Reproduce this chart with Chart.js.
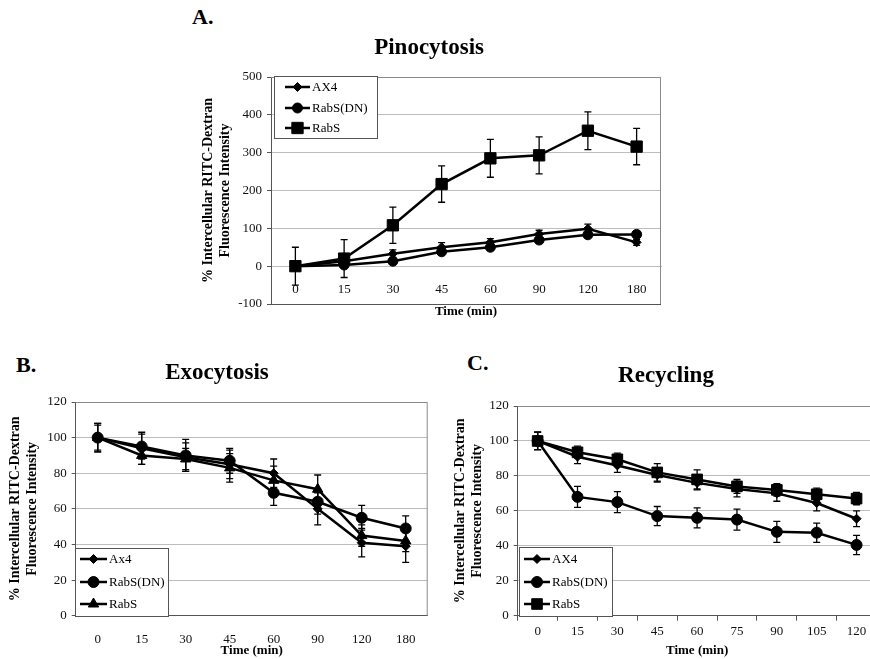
<!DOCTYPE html>
<html>
<head>
<meta charset="utf-8">
<script src="https://cdn.jsdelivr.net/npm/chart.js@4.4.1/dist/chart.umd.min.js"></script>
<style>
html, body { margin: 0; padding: 0; width: 870px; height: 659px; overflow: hidden; background: #fff; }
canvas { position: absolute; }
.tag { position: absolute; font: bold 22px 'Liberation Serif', 'Times New Roman', serif; line-height: 22px; color: #000; }
</style>
</head>
<body>
<div class="tag" style="left:192px;top:6px">A.</div>
<div class="tag" style="left:16px;top:354px">B.</div>
<div class="tag" style="left:467px;top:352px">C.</div>
<canvas id="pino-chart" width="490" height="320" style="left:180px;top:0"></canvas>
<canvas id="exo-chart" width="440" height="329" style="left:0;top:330px"></canvas>
<canvas id="recycle-chart" width="450" height="329" style="left:435px;top:330px"></canvas>
<script>
// --- data ---
const timeAB = ['0', '15', '30', '45', '60', '90', '120', '180'];
const timeC = ['0', '15', '30', '45', '60', '75', '90', '105', '120'];

const pinoAX4 = [0, 13, 33, 50, 63, 85, 99, 63];
const pinoAX4Err = [3, 8, 10, 12, 10, 10, 12, 8];
const pinoDN = [0, 3, 13, 38, 50, 69, 83, 84];
const pinoDNErr = [3, 5, 6, 6, 6, 6, 6, 8];
const pinoRabS = [0, 20, 108, 217, 285, 293, 358, 316];
const pinoRabSErr = [50, 50, 48, 48, 50, 49, 50, 48];

const exoAx4 = [100, 94, 89, 85, 80, 60, 41, 39];
const exoAx4Err = [8, 9, 8, 8, 8, 9, 8, 9];
const exoDN = [100, 95, 90, 87, 69, 64, 55, 49];
const exoDNErr = [8, 7, 9, 7, 7, 7, 7, 7];
const exoRabS = [100, 90, 88, 83, 76, 71, 45, 42];
const exoRabSErr = [7, 5, 6, 8, 8, 8, 6, 6];

const recAX4 = [100, 91, 86, 80.5, 76, 72.5, 70, 64.5, 55.5];
const recAX4Err = [5, 4, 4, 4, 4, 4.5, 4.5, 4.5, 4.5];
const recDN = [100, 68, 65, 57, 56, 55, 48, 47.5, 40.5];
const recDNErr = [5, 6, 6, 5.5, 5.7, 6, 6, 5.5, 5.5];
const recRabS = [100, 93.5, 89.5, 82, 78, 74, 72, 69.5, 67];
const recRabSErr = [5, 3.5, 3.5, 5, 5.5, 4, 3.5, 3.5, 3.5];

const serif = "'Liberation Serif', 'Times New Roman', serif";
const yTitle = ['% Intercellular RITC-Dextran', 'Fluorescence Intensity'];

// vertical error bars from each dataset's errors array
const errorBars = {
    id: 'errorBars',
    afterDatasetsDraw(chart) {
        const ctx = chart.ctx;
        const y = chart.scales.y;
        ctx.save();
        ctx.strokeStyle = '#000';
        ctx.lineWidth = 1.3;
        chart.data.datasets.forEach((ds, i) => {
            chart.getDatasetMeta(i).data.forEach((pt, j) => {
                const top = y.getPixelForValue(ds.data[j] + ds.errors[j]);
                const bot = y.getPixelForValue(ds.data[j] - ds.errors[j]);
                ctx.beginPath();
                ctx.moveTo(pt.x, top); ctx.lineTo(pt.x, bot);
                ctx.moveTo(pt.x - 3.5, top); ctx.lineTo(pt.x + 3.5, top);
                ctx.moveTo(pt.x - 3.5, bot); ctx.lineTo(pt.x + 3.5, bot);
                ctx.stroke();
            });
        });
        ctx.restore();
    }
};

// top and right edge of the plot area
const plotFrame = {
    id: 'plotFrame',
    beforeDatasetsDraw(chart) {
        const {ctx, chartArea: a} = chart;
        ctx.save();
        ctx.strokeStyle = '#8a8a8a';
        ctx.lineWidth = 1;
        ctx.beginPath();
        ctx.moveTo(a.left, a.top + 0.5);
        ctx.lineTo(a.right - 0.5, a.top + 0.5);
        ctx.lineTo(a.right - 0.5, a.bottom);
        ctx.stroke();
        ctx.restore();
    }
};

// excel-like boxed legend: line with marker, then label
const boxLegend = {
    id: 'boxLegend',
    afterDraw(chart, args, opts) {
        const ctx = chart.ctx;
        ctx.save();
        ctx.fillStyle = '#fff';
        ctx.fillRect(opts.x, opts.y, opts.w, opts.h);
        ctx.strokeStyle = '#555';
        ctx.lineWidth = 1;
        ctx.strokeRect(opts.x + 0.5, opts.y + 0.5, opts.w, opts.h);
        ctx.font = '13px ' + serif;
        ctx.textBaseline = 'middle';
        chart.data.datasets.forEach((ds, i) => {
            const yy = opts.rows[i];
            ctx.strokeStyle = '#000';
            ctx.lineWidth = 2.5;
            ctx.beginPath();
            ctx.moveTo(opts.line[0], yy);
            ctx.lineTo(opts.line[1], yy);
            ctx.stroke();
            ctx.fillStyle = '#000';
            ctx.lineWidth = 1;
            Chart.helpers.drawPoint(ctx, {pointStyle: ds.pointStyle, radius: ds.pointRadius, rotation: 0, borderWidth: 1},
                (opts.line[0] + opts.line[1]) / 2, yy);
            ctx.fillText(ds.label, opts.line[1] + 2, yy + 1);
        });
        ctx.restore();
    }
};

function series(label, data, errors, style, radius) {
    return {
        label: label, data: data, errors: errors,
        borderColor: '#000', backgroundColor: '#000', borderWidth: 2.5,
        pointStyle: style, pointRadius: radius, pointBorderWidth: 1,
        pointBackgroundColor: '#000', tension: 0
    };
}

const tickFont = {family: serif, size: 13};
const axisTitleFont = {family: serif, size: 13, weight: 'bold', lineHeight: 1.3};
const yTitleFont = {family: serif, size: 14, weight: 'bold', lineHeight: 1.25};
const mainTitleFont = {family: serif, size: 23, weight: 'bold', lineHeight: 1.2};

// A. Pinocytosis
new Chart(document.getElementById('pino-chart'), {
    type: 'line',
    data: {
        labels: timeAB,
        datasets: [
            series('AX4', pinoAX4, pinoAX4Err, 'rectRot', 4.5),
            series('RabS(DN)', pinoDN, pinoDNErr, 'circle', 5),
            series('RabS', pinoRabS, pinoRabSErr, 'rect', 8)
        ]
    },
    options: {
        responsive: false,
        animation: false,
        layout: {padding: {left: 15.25, right: 7, top: 0, bottom: 0}},
        scales: {
            x: {
                position: {y: 0},
                offset: true,
                grid: {display: false},
                border: {color: '#bdbdbd'},
                ticks: {color: '#111', font: tickFont, padding: 8}
            },
            x2: {
                type: 'category',
                position: 'bottom',
                offset: true,
                grid: {display: false},
                border: {display: false},
                ticks: {display: false},
                title: {display: true, text: 'Time (min)', color: '#000', font: axisTitleFont, padding: 0},
                afterFit: s => { s.height = 16; }
            },
            y: {
                min: -100,
                max: 500,
                ticks: {stepSize: 100, color: '#111', font: tickFont, padding: 5},
                grid: {
                    color: c => c.tick && c.tick.value === -100 ? '#555' : '#bdbdbd',
                    tickLength: 4, tickColor: '#555'
                },
                border: {color: '#555'},
                title: {display: true, text: yTitle, color: '#000', font: yTitleFont, padding: {top: 4, bottom: 0}},
                afterFit: s => { s.width = 75.75; }
            }
        },
        plugins: {
            legend: {display: false},
            tooltip: {enabled: false},
            title: {
                display: true, text: 'Pinocytosis', color: '#000',
                font: mainTitleFont,
                padding: {top: 34.2, bottom: 15.2}
            },
            boxLegend: {x: 94, y: 76, w: 103, h: 62, rows: [87, 108, 128], line: [105, 130]}
        }
    },
    plugins: [plotFrame, errorBars, boxLegend]
});

// B. Exocytosis
new Chart(document.getElementById('exo-chart'), {
    type: 'line',
    data: {
        labels: timeAB,
        datasets: [
            series('Ax4', exoAx4, exoAx4Err, 'rectRot', 4.5),
            series('RabS(DN)', exoDN, exoDNErr, 'circle', 5.5),
            series('RabS', exoRabS, exoRabSErr, 'triangle', 6)
        ]
    },
    options: {
        responsive: false,
        animation: false,
        layout: {padding: {left: 6.25, right: 12.3, top: 0, bottom: 0}},
        scales: {
            x: {
                offset: true,
                grid: {display: false},
                border: {color: '#555'},
                ticks: {color: '#111', font: tickFont, padding: 8},
                title: {display: true, text: 'Time (min)', color: '#000', font: axisTitleFont, padding: 0},
                afterFit: s => { s.height = 43.3; }
            },
            y: {
                min: 0,
                max: 120,
                ticks: {stepSize: 20, color: '#111', font: tickFont, padding: 5},
                grid: {color: '#bdbdbd', tickLength: 4, tickColor: '#555'},
                border: {color: '#555'},
                title: {display: true, text: yTitle, color: '#000', font: yTitleFont, padding: {top: 0, bottom: 0}},
                afterFit: s => { s.width = 69.45; }
            }
        },
        plugins: {
            legend: {display: false},
            tooltip: {enabled: false},
            title: {
                display: true, text: 'Exocytosis', color: '#000',
                font: mainTitleFont,
                padding: {top: 29.2, bottom: 15.2}
            },
            boxLegend: {x: 75, y: 218, w: 93, h: 68, rows: [229, 252, 274], line: [80, 107]}
        }
    },
    plugins: [plotFrame, errorBars, boxLegend]
});

// C. Recycling
new Chart(document.getElementById('recycle-chart'), {
    type: 'line',
    data: {
        labels: timeC,
        datasets: [
            series('AX4', recAX4, recAX4Err, 'rectRot', 4.5),
            series('RabS(DN)', recDN, recDNErr, 'circle', 5.5),
            series('RabS', recRabS, recRabSErr, 'rect', 7.5)
        ]
    },
    options: {
        responsive: false,
        animation: false,
        layout: {padding: {left: 16.25, right: 4.3, top: 0, bottom: 0}},
        scales: {
            x: {
                offset: true,
                grid: {display: true, drawOnChartArea: false, offset: true, tickLength: 5, color: '#555'},
                border: {color: '#555'},
                ticks: {color: '#111', font: tickFont, padding: 3},
                title: {display: true, text: 'Time (min)', color: '#000', font: axisTitleFont, padding: 0},
                afterFit: s => { s.height = 43.3; }
            },
            y: {
                min: 0,
                max: 120,
                ticks: {stepSize: 20, color: '#111', font: tickFont, padding: 5},
                grid: {color: '#bdbdbd', tickLength: 4, tickColor: '#555'},
                border: {color: '#555'},
                title: {display: true, text: yTitle, color: '#000', font: yTitleFont, padding: {top: 0, bottom: 0}},
                afterFit: s => { s.width = 66.45; }
            }
        },
        plugins: {
            legend: {display: false},
            tooltip: {enabled: false},
            title: {
                display: true, text: 'Recycling', color: '#000',
                font: mainTitleFont,
                padding: {top: 32.2, bottom: 16.2}
            },
            boxLegend: {x: 84, y: 217, w: 93, h: 69, rows: [229, 252, 274], line: [89, 115]}
        }
    },
    plugins: [plotFrame, errorBars, boxLegend]
});
</script>
</body>
</html>
